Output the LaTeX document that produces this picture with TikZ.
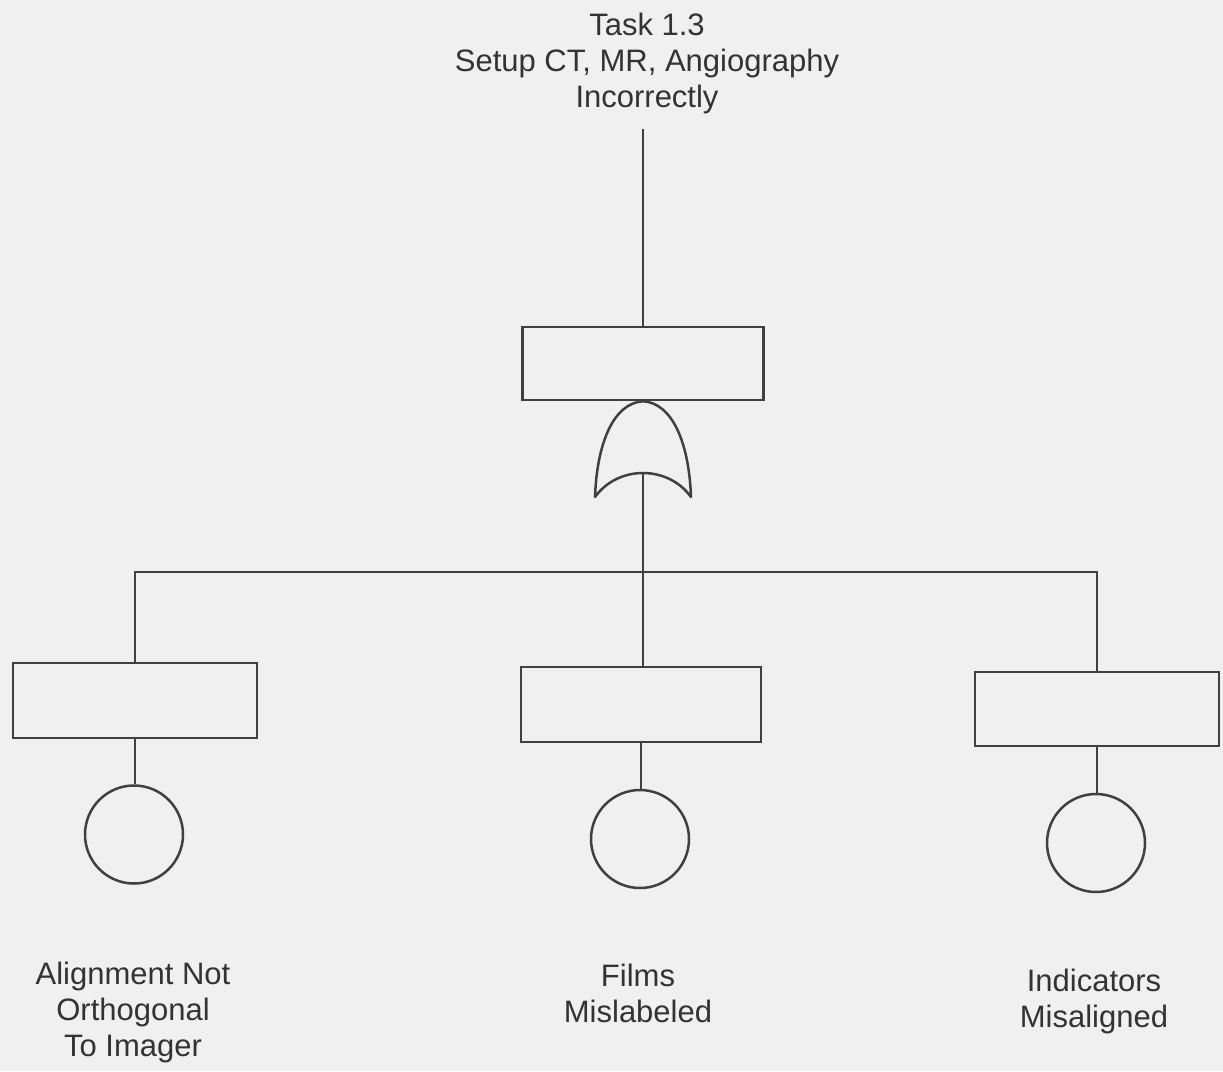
\documentclass[tikz,border=0pt]{standalone}
\usepackage{fontspec}
\setmainfont{Liberation Sans}
\begin{document}
\begin{tikzpicture}[x=1pt,y=-1pt,
  ink/.style={draw=black!75, line width=2.5pt},
  event/.style={ink, rectangle, inner sep=0pt},
  basic/.style={ink, circle, inner sep=0pt, minimum size=98pt},
  label/.style={text=black!80, font=\fontsize{31}{36}\selectfont, align=center, inner sep=0pt, anchor=north}]
  % page background
  \fill[black!6] (0,0) rectangle (1223,1071);
  \useasboundingbox (0,0) rectangle (1223,1071);

  % top event
  \node[label] (title) at (647,13) {Task 1.3\\Setup CT, MR, Angiography\\Incorrectly};
  \node[event, minimum width=241pt, minimum height=73pt] (evtop) at (643,363.5) {};
  \draw[ink] (evtop.north) -- ([yshift=-15pt]evtop.north |- title.south);

  % OR gate below the top event
  \coordinate (gtip) at (evtop.south);
  \coordinate (gl) at (595,497);
  \coordinate (gr) at (691,497);
  \coordinate (gin) at (643,473);
  \draw[ink, line join=round]
    (gl) .. controls (597,442) and (614,403) .. (gtip)
         .. controls (672,403) and (689,442) .. (gr)
         .. controls (668,465) and (618,465) .. (gl) -- cycle;

  % intermediate events
  \node[event, minimum width=244pt, minimum height=75pt] (e1) at (135,700.5) {};
  \node[event, minimum width=240pt, minimum height=75pt] (e2) at (641,704.5) {};
  \node[event, minimum width=244pt, minimum height=74pt] (e3) at (1097,709) {};

  % bus from the gate to the three events
  \coordinate (bus) at (gin |- 0,572);
  \draw[ink] (gin) -- (bus);
  \draw[ink] (e1.north) |- (bus) -| (e3.north);
  \draw[ink] (bus) -- (bus |- e2.north);

  % basic events
  \node[basic] (c1) at (134,834.5) {};
  \node[basic] (c2) at (640,839) {};
  \node[basic] (c3) at (1096,843) {};
  \draw[ink] (e1.south) -- (e1.south |- c1.north);
  \draw[ink] (e2.south) -- (e2.south |- c2.north);
  \draw[ink] (e3.south) -- (e3.south |- c3.north);

  % basic event descriptions
  \node[label] (t1) at (133,962) {Alignment Not\\Orthogonal\\To Imager};
  \node[label] (t2) at (638,964) {Films\\Mislabeled};
  \node[label] (t3) at (1094,969) {Indicators\\Misaligned};
\end{tikzpicture}
\end{document}
